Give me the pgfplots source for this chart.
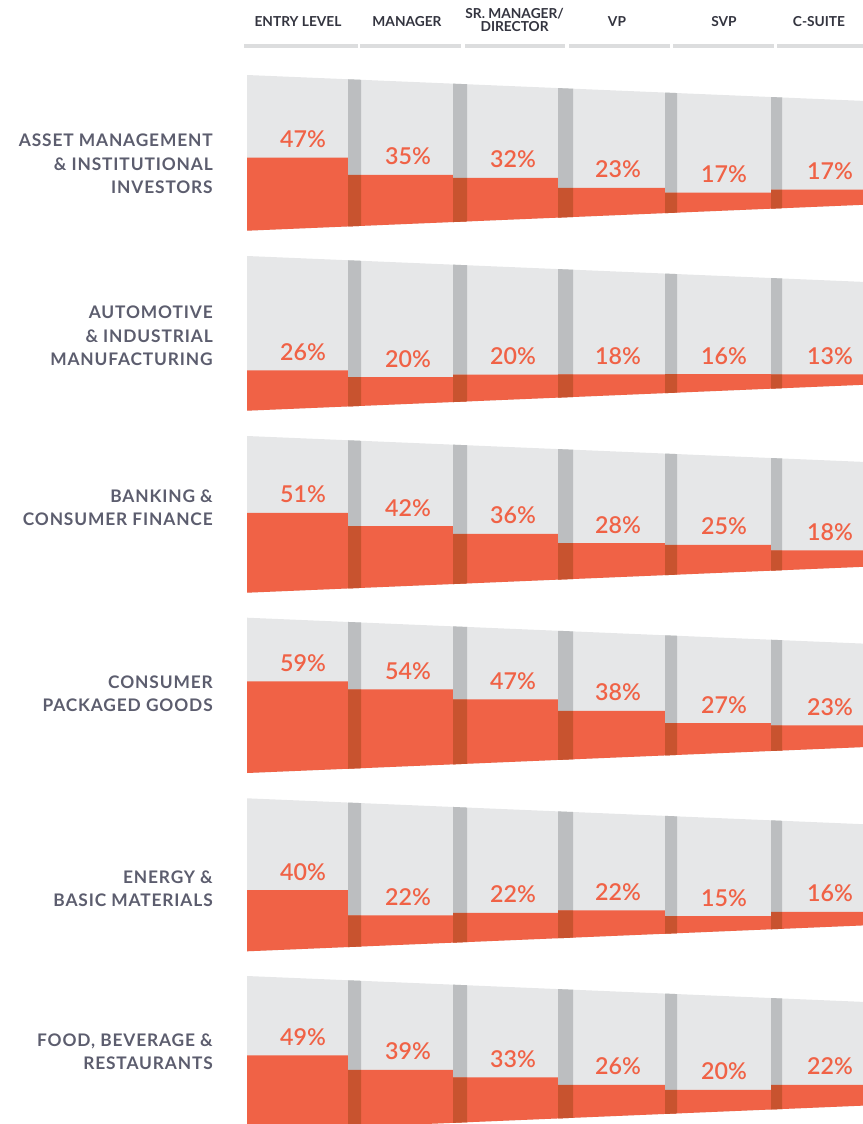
\documentclass[border=0pt]{standalone}
\usepackage{fontspec}
\setmainfont{Lato}
\newfontfamily\latobold{Lato Bold}
\newfontfamily\latolabel[LetterSpace=5]{Lato Bold}
\newfontfamily\latosemi{Lato Semibold}
\usepackage{pgfplots}
\pgfplotsset{compat=1.18}
\usepackage{pgfplotstable}
\definecolor{org}{HTML}{F06246}
\definecolor{dorg}{HTML}{C8532F}
\definecolor{lgray}{HTML}{E6E7E8}
\definecolor{sgray}{HTML}{BCBEC0}
\definecolor{hbar}{HTML}{DCDDDE}
\definecolor{lbl}{HTML}{5C5D6E}
\definecolor{htxt}{HTML}{33343F}
\newcommand\pfont{\latosemi\fontsize{17.4}{20}\selectfont}
\newcommand\hfont{\latobold\fontsize{10.3}{12}\selectfont}
\newcommand\lfont{\latolabel\fontsize{13}{17.5}\selectfont}

% envelope of each row: top and bottom (px) at the left edge x=247
\pgfplotstableread{
T B
75 230.7
256 410.7
436 592.7
617.7 773
798.3 951.3
976 1131.5
}\rows

% share of women (%) by row (industry) and column (level)
\pgfplotstableread{
k p
0 47
1 35
2 32
3 23
4 17
5 17
6 26
7 20
8 20
9 18
10 16
11 13
12 51
13 42
14 36
15 28
16 25
17 18
18 59
19 54
20 47
21 38
22 27
23 23
24 40
25 22
26 22
27 22
28 15
29 16
30 49
31 39
32 33
33 26
34 20
35 22
}\cells

\begin{document}
\begin{tikzpicture}
\begin{axis}[
  width=647.25pt, height=843pt, scale only axis,
  xmin=0, xmax=863, ymin=0, ymax=1124, y dir=reverse,
  hide axis, clip=true,
]
\coordinate (bbA) at (axis cs:0,1124);
\coordinate (bbB) at (axis cs:863,0);
% header bars
\addplot[draw=hbar, line width=3pt] coordinates {(244,46) (358,46)};
\addplot[draw=hbar, line width=3pt] coordinates {(360,46) (461,46)};
\addplot[draw=hbar, line width=3pt] coordinates {(465,46) (565,46)};
\addplot[draw=hbar, line width=3pt] coordinates {(569,46) (670,46)};
\addplot[draw=hbar, line width=3pt] coordinates {(673,46) (774,46)};
\addplot[draw=hbar, line width=3pt] coordinates {(777,46) (863,46)};
% envelopes
\pgfplotsforeachungrouped \myR in {0,...,5}{%
  \pgfplotstablegetelem{\myR}{T}\of\rows \let\myT\pgfplotsretval
  \pgfplotstablegetelem{\myR}{B}\of\rows \let\myB\pgfplotsretval
  \pgfmathsetmacro\myTr{\myT+0.042*623}%
  \pgfmathsetmacro\myBr{\myB-0.042*623}%
  \edef\cmd{\noexpand\addplot[draw=none,fill=lgray] coordinates {(247,\myT) (870,\myTr) (870,\myBr) (247,\myB) (247,\myT)};}%
  \cmd
}
% cells
\pgfplotsforeachungrouped \myK in {0,...,35}{%
  \pgfmathtruncatemacro\myR{floor(\myK/6)}%
  \pgfmathtruncatemacro\myC{mod(\myK,6)}%
  \pgfplotstablegetelem{\myK}{p}\of\cells \let\myP\pgfplotsretval
  \pgfplotstablegetelem{\myR}{T}\of\rows \let\myT\pgfplotsretval
  \pgfplotstablegetelem{\myR}{B}\of\rows \let\myB\pgfplotsretval
  \pgfmathsetmacro\xs{{247,348,453,558,665,771}[\myC]}%
  \pgfmathsetmacro\xf{{247,361,467,573,677,782}[\myC]}%
  \pgfmathsetmacro\xe{{348,453,558,665,771,870}[\myC]}%
  \pgfmathsetmacro\cx{{303,408,513,618,724,830}[\myC]}%
  \pgfmathsetmacro\Ts{\myT+0.042*(\xs-247)}%
  \pgfmathsetmacro\Bs{\myB-0.042*(\xs-247)}%
  \pgfmathsetmacro\Tf{\myT+0.042*(\xf-247)}%
  \pgfmathsetmacro\Bf{\myB-0.042*(\xf-247)}%
  \pgfmathsetmacro\Be{\myB-0.042*(\xe-247)}%
  \pgfmathsetmacro\yo{\Bs-\myP/100*(\Bs-\Ts)}%
  \pgfmathsetmacro\yl{\yo-10}%
  \edef\cmd{\noexpand\addplot[draw=none,fill=org] coordinates {(\xs,\yo) (\xe,\yo) (\xe,\Be) (\xs,\Bs) (\xs,\yo)};}\cmd
  \ifnum\myC>0
    \edef\cmd{\noexpand\addplot[draw=none,fill=sgray] coordinates {(\xs,\Ts) (\xf,\Tf) (\xf,\yo) (\xs,\yo) (\xs,\Ts)};}\cmd
    \edef\cmd{\noexpand\addplot[draw=none,fill=dorg] coordinates {(\xs,\yo) (\xf,\yo) (\xf,\Bf) (\xs,\Bs) (\xs,\yo)};}\cmd
  \fi
  \edef\cmd{\noexpand\node[anchor=base, text=org, inner sep=0pt, font=\noexpand\pfont] at (axis cs:\cx,\yl) {\myP\noexpand\%};}\cmd
}
% column headers
\node[anchor=base, text=htxt, font=\hfont, inner sep=0pt] at (axis cs:298,27) {ENTRY LEVEL};
\node[anchor=base, text=htxt, font=\hfont, inner sep=0pt] at (axis cs:407,27) {MANAGER};
\node[anchor=base, text=htxt, font=\hfont, inner sep=0pt] at (axis cs:514.6,19) {SR. MANAGER/};
\node[anchor=base, text=htxt, font=\hfont, inner sep=0pt] at (axis cs:514.6,32) {DIRECTOR};
\node[anchor=base, text=htxt, font=\hfont, inner sep=0pt] at (axis cs:617,27) {VP};
\node[anchor=base, text=htxt, font=\hfont, inner sep=0pt] at (axis cs:724,27) {SVP};
\node[anchor=base, text=htxt, font=\hfont, inner sep=0pt] at (axis cs:819,27) {C-SUITE};
% row labels
\node[anchor=east, align=right, text=lbl, font=\lfont, inner sep=0pt] at (axis cs:213,164) {ASSET MANAGEMENT\\\& INSTITUTIONAL\\INVESTORS};
\node[anchor=east, align=right, text=lbl, font=\lfont, inner sep=0pt] at (axis cs:213,336) {AUTOMOTIVE\\\& INDUSTRIAL\\MANUFACTURING};
\node[anchor=east, align=right, text=lbl, font=\lfont, inner sep=0pt] at (axis cs:213,507.5) {BANKING \&\\CONSUMER FINANCE};
\node[anchor=east, align=right, text=lbl, font=\lfont, inner sep=0pt] at (axis cs:213,694) {CONSUMER\\PACKAGED GOODS};
\node[anchor=east, align=right, text=lbl, font=\lfont, inner sep=0pt] at (axis cs:213,889) {ENERGY \&\\BASIC MATERIALS};
\node[anchor=east, align=right, text=lbl, font=\lfont, inner sep=0pt] at (axis cs:213,1051.5) {FOOD, BEVERAGE \&\\RESTAURANTS};
\end{axis}
\pgfresetboundingbox
\path (bbA) rectangle (bbB);
\end{tikzpicture}
\end{document}
